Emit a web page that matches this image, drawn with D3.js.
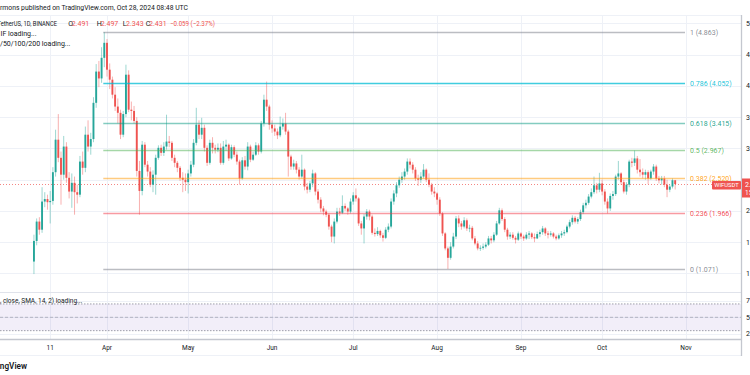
<!DOCTYPE html>
<html><head><meta charset="utf-8">
<script src="https://cdn.jsdelivr.net/npm/d3@7"></script>
<style>html,body{margin:0;padding:0;background:#fff;overflow:hidden}svg{display:block}text{font-family:Roboto,"Open Sans",sans-serif}</style>
</head><body><svg id="c" width="750" height="375"></svg>
<script>
// ---- data (WIFUSDT, 1D, Binance) ----
const startDate = "2024-03-05";
const firstOpen = 1.19;
const closes = [
 // Mar 5-31
 1.52,1.83,1.70,2.15,2.19,2.14,2.16,2.62,3.14,2.85,2.58,3.03,2.53,2.31,2.45,2.30,2.26,2.79,2.69,3.22,3.03,3.15,3.73,4.23,4.12,4.45,4.69,
 // Apr
 4.26,4.10,3.86,3.67,3.57,3.22,3.55,4.18,3.62,3.60,3.44,2.64,2.32,3.06,2.74,2.63,2.42,2.58,2.85,3.01,2.93,3.03,3.11,3.09,2.85,2.77,2.69,2.53,2.50,2.46,
 // May
 2.60,2.74,3.09,3.38,3.22,3.33,3.01,2.77,3.09,3.01,2.98,3.01,2.77,3.03,3.06,2.84,3.02,2.90,2.79,2.52,2.81,2.71,3.03,2.82,2.90,3.05,2.95,3.40,3.78,3.67,3.38,
 // Jun
 3.32,3.27,3.21,3.35,3.40,3.27,2.87,2.71,2.76,2.66,2.55,2.66,2.39,2.34,2.44,2.60,2.31,2.18,2.04,1.99,1.94,1.75,1.59,1.83,1.99,1.97,2.08,2.04,1.99,2.15,
 // Jul
 2.25,2.20,1.80,1.72,1.91,1.99,1.91,1.65,1.63,1.68,1.61,1.57,1.70,1.75,2.15,2.28,2.41,2.50,2.55,2.63,2.79,2.74,2.66,2.52,2.50,2.55,2.66,2.50,2.42,2.31,2.28,
 // Aug
 2.18,1.96,1.64,1.40,1.25,1.43,1.59,1.88,1.80,1.75,1.85,1.72,1.73,1.56,1.48,1.40,1.41,1.43,1.46,1.56,1.53,1.62,1.80,2.01,1.87,1.70,1.59,1.62,1.57,1.54,1.64,
 // Sep
 1.59,1.56,1.62,1.64,1.58,1.56,1.63,1.66,1.72,1.64,1.62,1.64,1.59,1.56,1.61,1.64,1.66,1.75,1.82,1.89,1.83,1.87,1.98,2.09,2.13,2.23,2.30,2.41,2.34,2.44,
 // Oct 1-28
 2.31,2.15,2.04,2.24,2.27,2.55,2.60,2.46,2.31,2.42,2.79,2.77,2.84,2.66,2.62,2.58,2.62,2.52,2.63,2.71,2.52,2.49,2.52,2.42,2.34,2.39,2.491,2.431
];
const highs = [
 1.62,1.88,1.90,2.38,2.30,2.26,2.32,2.70,3.30,3.55,2.95,3.20,3.10,2.62,2.60,2.55,2.42,2.88,2.95,3.35,3.45,3.25,3.82,4.35,4.40,4.62,4.863,
 4.75,4.36,4.15,3.98,3.80,3.62,3.60,4.34,4.25,3.75,3.68,3.50,2.80,3.12,3.10,2.80,2.70,2.65,2.90,3.05,3.06,3.10,3.54,3.20,3.12,2.90,2.80,2.72,2.62,2.60,
 2.66,2.80,3.15,3.65,3.45,3.49,3.38,3.05,3.14,3.18,3.06,3.08,3.08,3.12,3.14,3.08,3.06,3.05,2.95,2.82,2.86,2.88,3.10,3.06,2.95,3.10,3.08,3.44,3.86,4.07,3.70,
 3.45,3.38,3.32,3.51,3.48,3.57,3.30,2.90,2.82,2.80,2.70,2.90,2.68,2.45,2.48,2.66,2.62,2.35,2.22,2.08,2.02,1.96,1.78,1.88,2.05,2.05,2.25,2.12,2.06,2.20,
 2.30,2.36,2.22,1.84,1.95,2.03,2.02,1.94,1.72,1.74,1.70,1.65,1.74,1.80,2.20,2.33,2.46,2.55,2.62,2.68,2.84,2.84,2.78,2.70,2.58,2.62,2.75,2.68,2.60,2.45,2.38,
 2.30,2.22,1.98,1.66,1.43,1.50,1.65,1.92,1.93,1.84,1.90,1.88,1.78,1.76,1.60,1.52,1.45,1.48,1.50,1.60,1.60,1.66,1.84,2.05,2.04,1.90,1.73,1.66,1.66,1.60,1.67,
 1.66,1.62,1.66,1.68,1.66,1.64,1.67,1.70,1.76,1.74,1.68,1.68,1.66,1.62,1.64,1.68,1.70,1.78,1.86,1.93,1.92,1.90,2.02,2.13,2.18,2.27,2.36,2.55,2.45,2.61,
 2.50,2.35,2.20,2.28,2.32,2.58,2.80,2.62,2.50,2.46,2.82,2.85,2.967,2.88,2.83,2.68,2.66,2.65,2.66,2.75,2.74,2.56,2.56,2.56,2.50,2.42,2.52,2.497
];
const lows = [
 0.99,1.45,1.62,1.65,2.06,2.02,1.80,2.10,2.55,2.78,2.10,2.50,2.45,2.20,2.05,1.94,2.12,2.22,2.58,2.62,2.95,2.90,3.10,3.65,3.98,4.05,4.30,
 4.15,3.95,3.80,3.60,3.40,3.15,3.18,3.50,3.58,3.45,3.40,2.55,1.94,2.25,2.70,2.55,2.38,2.30,2.26,2.82,2.88,2.88,2.98,3.02,2.80,2.70,2.62,2.48,2.30,2.32,
 2.28,2.55,2.70,3.05,3.15,3.15,2.95,2.72,2.74,2.92,2.92,2.94,2.74,2.74,2.96,2.80,2.82,2.86,2.74,2.42,2.50,2.66,2.65,2.78,2.80,2.88,2.90,2.92,3.35,3.60,3.30,
 3.25,3.20,3.15,3.18,3.30,3.22,2.55,2.66,2.66,2.60,2.50,2.52,2.33,2.28,2.30,2.38,2.25,2.12,1.98,1.93,1.90,1.70,1.50,1.48,1.80,1.92,1.95,2.00,1.94,1.96,
 2.10,2.15,1.76,1.62,1.48,1.86,1.85,1.62,1.59,1.60,1.57,1.51,1.55,1.66,1.72,2.10,2.22,2.37,2.45,2.50,2.58,2.68,2.60,2.48,2.40,2.45,2.52,2.46,2.38,2.26,2.22,
 2.10,1.92,1.60,1.37,1.071,1.22,1.40,1.55,1.74,1.70,1.72,1.68,1.66,1.53,1.45,1.37,1.36,1.38,1.40,1.44,1.48,1.50,1.60,1.78,1.84,1.66,1.54,1.55,1.54,1.48,1.52,
 1.55,1.52,1.54,1.55,1.55,1.50,1.55,1.58,1.62,1.60,1.56,1.59,1.56,1.53,1.54,1.57,1.60,1.64,1.72,1.78,1.80,1.79,1.84,1.95,2.04,2.10,2.20,2.27,2.28,2.30,
 2.25,2.10,1.96,2.00,2.18,2.24,2.50,2.42,2.28,2.26,2.38,2.70,2.72,2.60,2.55,2.52,2.50,2.43,2.50,2.58,2.48,2.44,2.42,2.38,2.22,2.30,2.36,2.343
];
const fibHigh = 4.863, fibLow = 1.071;
const fibStart = "2024-03-31";
const fibLevels = [1, 0.786, 0.618, 0.5, 0.382, 0.236, 0];
const fibLabels = ["1 (4.863)","0.786 (4.052)","0.618 (3.415)","0.5 (2.967)","0.382 (2.520)","0.236 (1.966)","0 (1.071)"];
const fibColors = ["#787b86","#00bcd4","#089981","#4caf50","#ff9800","#f23645","#787b86"];
const priceTicks = [1.0,1.5,2.0,2.5,3.0,3.5,4.0,4.5,5.0];
const timeTicks = [["2024-03-11","11"],["2024-04-01","Apr"],["2024-05-01","May"],["2024-06-01","Jun"],["2024-07-01","Jul"],["2024-08-01","Aug"],["2024-09-01","Sep"],["2024-10-01","Oct"],["2024-11-01","Nov"]];
const rsiTicks = [75,50,25];
const rsiBand = [70,30];
const lastPrice = 2.431;

// ---- drawing ----
const svg = d3.select("#c");
const parse = d3.utcParse("%Y-%m-%d");
const t0 = parse(startDate);
const candles = closes.map((c,i)=>({date:d3.utcDay.offset(t0,i), o: i ? closes[i-1] : firstOpen, h: highs[i], l: lows[i], c}));

const plotRight = 741;
const x = d3.scaleUtc().domain([parse("2024-04-01"), parse("2024-11-01")]).range([107, 686]);
const y = d3.scaleLinear().domain([fibLow, fibHigh]).range([269, 32]);
const yR = d3.scaleLinear().domain([25, 75]).range([334, 300.6]);
const UP = "#26a69a", DN = "#ef5350";

svg.append("rect").attr("width",750).attr("height",375).attr("fill","#fff");

// grid
const grid = svg.append("g").attr("stroke","#eef1f7").attr("stroke-width",1);
grid.selectAll(".vg").data(timeTicks).join("line")
  .attr("x1",d=>Math.round(x(parse(d[0])))+0.5).attr("x2",d=>Math.round(x(parse(d[0])))+0.5)
  .attr("y1",15).attr("y2",339);
grid.selectAll(".hg").data(priceTicks).join("line")
  .attr("x1",0).attr("x2",plotRight).attr("y1",d=>Math.round(y(d))+0.5).attr("y2",d=>Math.round(y(d))+0.5);
grid.selectAll(".rg").data(rsiTicks).join("line")
  .attr("x1",0).attr("x2",plotRight).attr("y1",d=>Math.round(yR(d))+0.5).attr("y2",d=>Math.round(yR(d))+0.5);
svg.append("line").attr("x1",0).attr("x2",plotRight).attr("y1",15.5).attr("y2",15.5).attr("stroke","#eef1f7");

// last price dotted line
const ly = Math.round(y(lastPrice))+0.5;
svg.append("line").attr("x1",0).attr("x2",plotRight).attr("y1",ly).attr("y2",ly)
  .attr("stroke",DN).attr("stroke-opacity",0.7).attr("stroke-dasharray","1,2");

// candles
const cg = svg.append("g");
cg.selectAll(".w").data(candles).join("line")
  .attr("x1",d=>x(d.date)).attr("x2",d=>x(d.date))
  .attr("y1",d=>y(d.h)).attr("y2",d=>y(d.l))
  .attr("stroke",d=>d.c>=d.o?UP:DN).attr("stroke-opacity",0.45).attr("stroke-width",1);
cg.selectAll(".b").data(candles).join("rect")
  .attr("x",d=>x(d.date)-0.95).attr("width",1.9)
  .attr("y",d=>y(Math.max(d.o,d.c))).attr("height",d=>Math.max(0.8,Math.abs(y(d.o)-y(d.c))))
  .attr("fill",d=>d.c>=d.o?UP:DN);

// fib retracement (drawn above the series)
const fx0 = x(parse(fibStart)) - 1, fx1 = 685;
const fib = svg.append("g");
fibLevels.forEach((lv,i)=>{
  const py = Math.round(y(fibLow + lv*(fibHigh-fibLow)))+0.5;
  fib.append("line").attr("x1",fx0).attr("x2",fx1).attr("y1",py).attr("y2",py)
    .attr("stroke",fibColors[i]).attr("stroke-width",1.4).attr("stroke-opacity", i===1?0.75:0.5);
  fib.append("text").attr("x",690).attr("y",py+2.2).attr("font-size",7).attr("fill",fibColors[i])
    .attr("fill-opacity",0.9).text(fibLabels[i]);
});

// RSI pane
svg.append("line").attr("x1",0).attr("x2",plotRight).attr("y1",292.5).attr("y2",292.5).attr("stroke","#e0e3eb");
svg.append("rect").attr("x",0).attr("width",plotRight).attr("y",yR(rsiBand[0])).attr("height",yR(rsiBand[1])-yR(rsiBand[0]))
  .attr("fill","#7e57c2").attr("fill-opacity",0.1);
[rsiBand[0],50,rsiBand[1]].forEach((v,i)=>{
  svg.append("line").attr("x1",0).attr("x2",plotRight).attr("y1",yR(v)).attr("y2",yR(v))
    .attr("stroke","#787b86").attr("stroke-opacity",i===1?0.45:0.7).attr("stroke-dasharray",i===1?"3,2":"1.5,1.5");
});
svg.append("text").attr("x",0).attr("y",302.5).attr("font-size",6.5).attr("fill","#131722")
  .text(", close, SMA, 14, 2) loading...");

// axes frame
svg.append("line").attr("x1",0).attr("x2",plotRight).attr("y1",339.5).attr("y2",339.5).attr("stroke","#c4c7cf").attr("stroke-width",1.3);
svg.append("line").attr("x1",0).attr("x2",plotRight).attr("y1",355.5).attr("y2",355.5).attr("stroke","#eef1f7");
svg.append("line").attr("x1",plotRight+0.5).attr("x2",plotRight+0.5).attr("y1",15).attr("y2",356).attr("stroke","#c4c7cf").attr("stroke-width",1.3);

// time labels
svg.selectAll(".tl").data(timeTicks).join("text")
  .attr("x",d=>x(parse(d[0]))).attr("y",350).attr("text-anchor","middle")
  .attr("font-size",6.5).attr("fill","#131722").text(d=>d[1]);

// price labels (cut by the window edge, as in the screenshot); hidden under the last-price tag
svg.selectAll(".pl").data(priceTicks.filter(p=>Math.abs(y(p)-ly)>9)).join("text")
  .attr("x",746).attr("y",d=>y(d)+2.4).attr("font-size",7).attr("fill","#131722").text(d=>d.toFixed(3));
svg.selectAll(".rl").data(rsiTicks).join("text")
  .attr("x",746).attr("y",d=>yR(d)+2.4).attr("font-size",7).attr("fill","#131722").text(d=>d.toFixed(2));

// last price tags
svg.append("rect").attr("x",712).attr("y",ly-3.6).attr("width",29).attr("height",8.6).attr("rx",1).attr("fill",DN);
svg.append("text").attr("x",726.5).attr("y",ly+2.6).attr("text-anchor","middle").attr("font-size",5.8).attr("fill","#fff").text("WIFUSDT");
svg.append("rect").attr("x",742).attr("y",ly-6).attr("width",20).attr("height",19).attr("fill",DN);
svg.append("text").attr("x",745).attr("y",ly+2.4).attr("font-size",7).attr("fill","#fff").text(lastPrice.toFixed(3));
svg.append("text").attr("x",745).attr("y",ly+10.5).attr("font-size",6.5).attr("fill","#fff").text("15:11:24");

// header texts
svg.append("text").attr("x",0).attr("y",9.5).attr("font-size",7.2).attr("fill","#131722")
  .attr("textLength",188).attr("lengthAdjust","spacingAndGlyphs")
  .text("rmons published on TradingView.com, Oct 28, 2024 08:48 UTC");
const hy = 26;
svg.append("text").attr("x",-2.5).attr("y",hy).attr("font-size",7).attr("fill","#131722")
  .attr("textLength",59.5).attr("lengthAdjust","spacingAndGlyphs").text("TetherUS, 1D, BINANCE");
const ohlc = [["O",68.3,"2.491",71.7],["H",96.7,"2.497",100.7],["L",122.7,"2.343",126],["C",145.7,"2.431",149]];
ohlc.forEach(d=>{
  svg.append("text").attr("x",d[1]).attr("y",hy).attr("font-size",7).attr("fill","#131722").text(d[0]);
  svg.append("text").attr("x",d[3]).attr("y",hy).attr("font-size",7).attr("fill",DN).text(d[2]);
});
svg.append("text").attr("x",170).attr("y",hy).attr("font-size",7).attr("fill",DN)
  .attr("textLength",45).attr("lengthAdjust","spacingAndGlyphs").text("\u22120.059 (\u22122.37%)");
svg.append("text").attr("x",0.5).attr("y",35.5).attr("font-size",7).attr("fill","#131722").text("IF loading...");
svg.append("text").attr("x",0).attr("y",45.5).attr("font-size",7).attr("fill","#131722").text("/50/100/200 loading...");

// logo
svg.append("text").attr("x",27).attr("y",368.5).attr("text-anchor","end").attr("font-size",8.2)
  .attr("font-weight",600).attr("fill","#131722").text("TradingView");
</script></body></html>
